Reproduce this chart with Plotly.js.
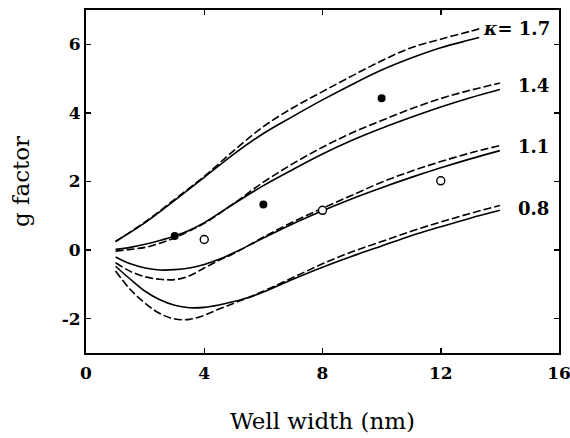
<!DOCTYPE html>
<html>
<head>
<meta charset="utf-8">
<script src="https://cdn.plot.ly/plotly-3.0.1.min.js"></script>
<style>html,body{margin:0;padding:0;background:#fff;}#chart{width:570px;height:438px;}</style>
</head>
<body>
<div id="chart"></div>
<script>
// kappa = 1.7
const x17 = [1,2,3,4,5,6,7,8,9,10,11,12,13,13.3];
const solid17 = [0.25,0.8,1.45,2.12,2.8,3.4,3.9,4.38,4.83,5.25,5.6,5.9,6.13,6.2];
const dash17 = [0.25,0.82,1.48,2.15,2.9,3.6,4.15,4.62,5.08,5.52,5.9,6.15,6.38,6.45];
// kappa = 1.4
const x14 = [1,1.5,2,2.5,3,3.5,4,5,6,7,8,9,10,11,12,13,14];
const solid14 = [0.02,0.08,0.17,0.28,0.41,0.58,0.8,1.35,1.88,2.35,2.8,3.2,3.55,3.87,4.17,4.44,4.68];
const dash14 = [-0.03,0.02,0.08,0.2,0.36,0.56,0.78,1.36,1.98,2.52,3.0,3.42,3.78,4.12,4.42,4.66,4.87];
// kappa = 1.1
const x11 = [1,1.5,2,2.5,3,3.5,4,4.5,5,6,7,8,9,10,11,12,13,14];
const solid11 = [-0.2,-0.4,-0.52,-0.58,-0.57,-0.52,-0.42,-0.27,-0.08,0.35,0.77,1.15,1.5,1.82,2.12,2.4,2.66,2.9];
const dash11 = [-0.37,-0.62,-0.78,-0.85,-0.86,-0.75,-0.52,-0.3,-0.1,0.38,0.82,1.22,1.6,1.98,2.3,2.58,2.83,3.05];
// kappa = 0.8
const x08 = [1,1.5,2,2.5,3,3.5,4,4.5,5,5.5,6,7,8,9,10,11,12,13,14];
const solid08 = [-0.47,-0.85,-1.2,-1.45,-1.61,-1.68,-1.67,-1.6,-1.5,-1.38,-1.22,-0.85,-0.5,-0.18,0.12,0.42,0.68,0.93,1.16];
const dash08 = [-0.61,-1.15,-1.55,-1.85,-2.01,-2.02,-1.9,-1.72,-1.55,-1.38,-1.2,-0.8,-0.4,-0.05,0.25,0.55,0.82,1.07,1.3];
// experimental points
const filledX = [3,6,10];
const filledY = [0.41,1.33,4.43];
const openX = [4,8,12];
const openY = [0.31,1.16,2.02];
// curve labels
const labelText = ["<i>κ</i>= 1.7","1.4","1.1","0.8"];
const labelX = [13.35,14.55,14.55,14.55];
const labelY = [6.46,4.8,3.03,1.22];
// tick labels
const xTicks = [0,4,8,12,16];
const yTicks = [-2,0,2,4,6];

const FONT = "DejaVu Serif, Liberation Serif, serif";
const traces = [];
function addPair(x, s, d){
  traces.push({x:x, y:s, mode:'lines', line:{color:'#000', width:1.6, shape:'spline', smoothing:1}, hoverinfo:'skip'});
  traces.push({x:x, y:d, mode:'lines', line:{color:'#000', width:1.6, dash:'8px,3px', shape:'spline', smoothing:1}, hoverinfo:'skip'});
}
addPair(x17, solid17, dash17);
addPair(x14, solid14, dash14);
addPair(x11, solid11, dash11);
addPair(x08, solid08, dash08);
traces.push({x:filledX, y:filledY, mode:'markers', marker:{color:'#000', size:8, symbol:'circle'}});
traces.push({x:openX, y:openY, mode:'markers', marker:{color:'#fff', size:8, symbol:'circle', line:{color:'#000', width:1.4}}});

const annotations = labelText.map((t,i)=>({
  x:labelX[i], y:labelY[i], xref:'x', yref:'y', text:t, showarrow:false,
  xanchor:'left', yanchor:'middle', font:{family:FONT, size:18, color:'#000', weight:'bold'}
}));

const layout = {
  width:570, height:438,
  margin:{l:86, r:11, t:10, b:85},
  paper_bgcolor:'#fff', plot_bgcolor:'#fff',
  showlegend:false,
  font:{family:FONT, color:'#000'},
  xaxis:{
    range:[0,16], tickvals:xTicks, ticktext:xTicks.map(String),
    ticks:'inside', ticklen:5, tickwidth:1.5, tickcolor:'#000',
    showline:true, linewidth:2, linecolor:'#000', mirror:'ticks',
    showgrid:false, zeroline:false, ticklabeloverflow:'allow', ticklabelstandoff:4,
    tickfont:{family:FONT, size:17, weight:'bold', color:'#000'},
    title:{text:'Well width (nm)', font:{family:FONT, size:23, color:'#000'}, standoff:30}
  },
  yaxis:{
    range:[-3,7], tickvals:yTicks, ticktext:yTicks.map(String),
    ticks:'inside', ticklen:5, tickwidth:1.5, tickcolor:'#000',
    showline:true, linewidth:2, linecolor:'#000', mirror:'ticks',
    showgrid:false, zeroline:false,
    tickfont:{family:FONT, size:17, weight:'bold', color:'#000'},
    title:{text:'g factor', font:{family:FONT, size:23, color:'#000'}, standoff:26}
  },
  annotations:annotations
};
Plotly.newPlot('chart', traces, layout, {staticPlot:true, displayModeBar:false});
</script>
</body>
</html>
